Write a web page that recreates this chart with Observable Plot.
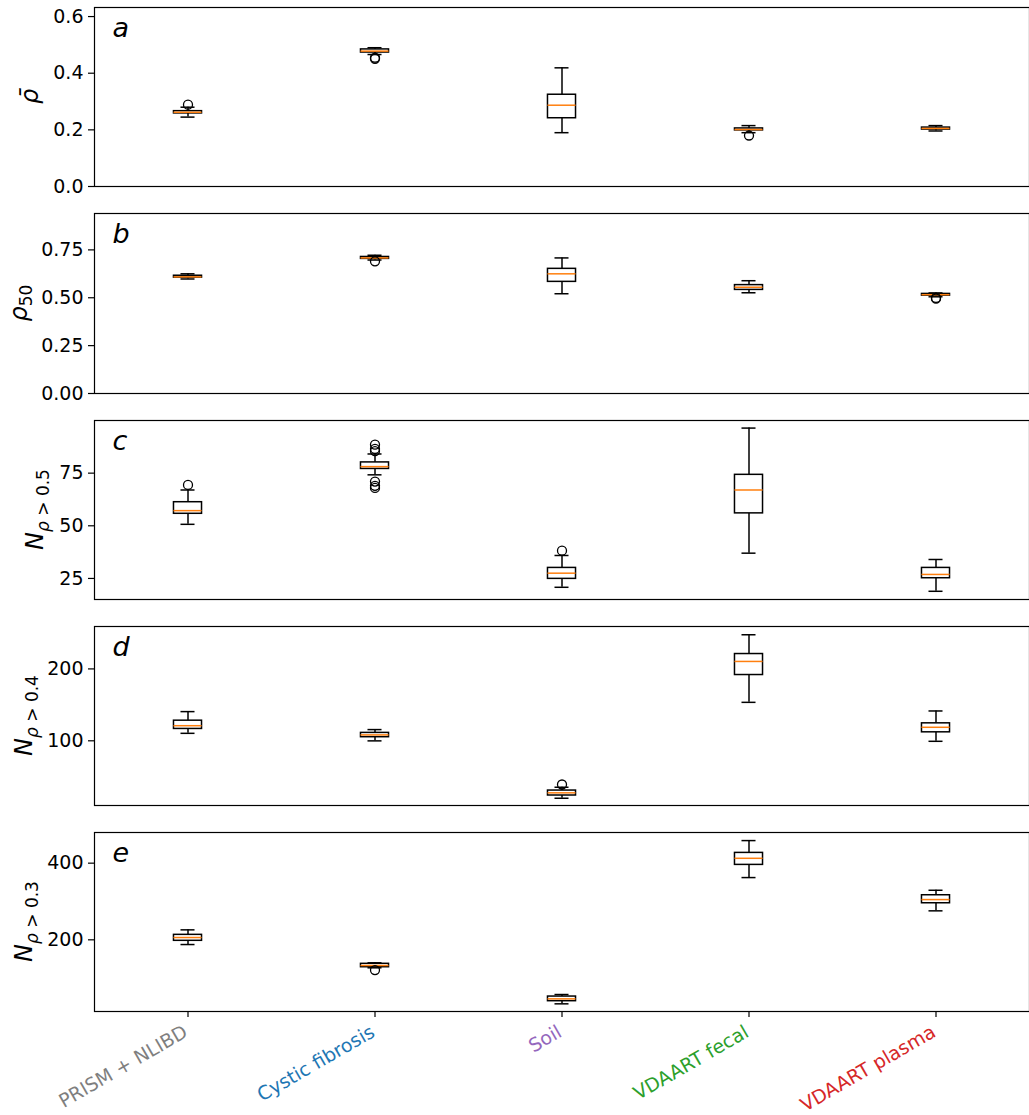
<!DOCTYPE html>
<html><head><meta charset="utf-8">
<script src="https://cdn.jsdelivr.net/npm/d3@7"></script>
<script src="https://cdn.jsdelivr.net/npm/@observablehq/plot@0.6"></script>
<style>
body{margin:0;background:#fff;}
#chart{width:1029px;}
#chart svg{display:block;overflow:visible;}
</style>
</head><body><div id="chart"></div>
<script>
const categories = ["PRISM + NLIBD", "Cystic fibrosis", "Soil", "VDAART fecal", "VDAART plasma"];
const categoryColors = ["#7f7f7f", "#1f77b4", "#9467bd", "#2ca02c", "#d62728"];

// each row: [whisker low, q1, median, q3, whisker high], one per category
const rhoMean = [
  [0.245, 0.258, 0.262, 0.266, 0.280],
  [0.466, 0.473, 0.478, 0.484, 0.490],
  [0.190, 0.241, 0.287, 0.324, 0.419],
  [0.190, 0.198, 0.201, 0.205, 0.215],
  [0.196, 0.201, 0.205, 0.208, 0.215]
];
const rhoMeanOutliers = [[0, 0.289], [1, 0.455], [1, 0.451], [3, 0.180]];

const rho50 = [
  [0.598, 0.605, 0.609, 0.615, 0.625],
  [0.697, 0.703, 0.708, 0.713, 0.722],
  [0.521, 0.583, 0.625, 0.651, 0.708],
  [0.526, 0.541, 0.555, 0.566, 0.589],
  [0.505, 0.511, 0.516, 0.520, 0.525]
];
const rho50Outliers = [[1, 0.690], [4, 0.495], [4, 0.499]];

const n05 = [
  [50.7, 55.7, 57.2, 61.2, 67.0],
  [74.2, 77.0, 78.1, 80.1, 84.1],
  [20.8, 24.8, 27.5, 30.0, 35.9],
  [37.0, 55.9, 67.0, 74.2, 96.4],
  [18.9, 25.1, 26.9, 30.0, 34.0]
];
const n05Outliers = [[0, 69.4], [1, 85.5], [1, 86.5], [1, 88.5], [1, 71.0], [1, 69.0], [1, 68.0], [2, 38.2]];

const n04 = [
  [110.4, 116.5, 121.0, 128.0, 140.6],
  [99.9, 105.0, 108.2, 111.0, 115.6],
  [20.1, 23.9, 27.6, 30.8, 35.4],
  [153.5, 191.5, 210.4, 220.7, 247.5],
  [99.3, 111.8, 118.8, 124.3, 141.5]
];
const n04Outliers = [[2, 39.2]];

const n03 = [
  [187.7, 197.4, 206.0, 213.0, 226.0],
  [127.0, 128.5, 133.0, 137.4, 140.0],
  [33.0, 39.9, 46.0, 52.0, 57.3],
  [362.4, 395.5, 412.7, 426.8, 458.9],
  [275.6, 295.4, 305.0, 316.3, 329.3]
];
const n03Outliers = [[1, 121.0]];

const panelLetters = ["a", "b", "c", "d", "e"];
const yDomains = [[0, 0.632], [0, 0.94], [15, 100], [10, 259], [13, 480]];
const yTicks = [[0, 0.2, 0.4, 0.6], [0, 0.25, 0.5, 0.75], [25, 50, 75], [100, 200], [200, 400]];
const yTickFormats = [".1f", ".2f", "d", "d", "d"];

const panels = [
  {stats: rhoMean, outliers: rhoMeanOutliers, height: 206, labelX: 38, label: [["ρ̄", "italic", 0]]},
  {stats: rho50, outliers: rho50Outliers, height: 207, labelX: 27, label: [["ρ", "italic", 0], ["50", "normal", 5]]},
  {stats: n05, outliers: n05Outliers, height: 206, labelX: 43, label: [["N", "italic", 0], ["ρ", "italic", 6], [" > 0.5", "normal", 0]]},
  {stats: n04, outliers: n04Outliers, height: 206, labelX: 32, label: [["N", "italic", 0], ["ρ", "italic", 6], [" > 0.4", "normal", 0]]},
  {stats: n03, outliers: n03Outliers, height: 290, labelX: 32, label: [["N", "italic", 0], ["ρ", "italic", 6], [" > 0.3", "normal", 0]]}
];

const chart = document.getElementById("chart");
const halfBox = 0.075, halfCap = 0.0375;
const FONT = "DejaVu Sans, sans-serif";

panels.forEach((p, k) => {
  const isLast = k === panels.length - 1;
  const rows = p.stats.map((s, i) => ({pos: i + 1, cat: categories[i], lo: s[0], q1: s[1], med: s[2], q3: s[3], hi: s[4]}));
  const outs = p.outliers.map(([i, v]) => ({pos: i + 1, v}));
  const marks = [
    Plot.ruleX(rows, {x: "pos", y1: "lo", y2: "q1", stroke: "black", strokeWidth: 1.5}),
    Plot.ruleX(rows, {x: "pos", y1: "q3", y2: "hi", stroke: "black", strokeWidth: 1.5}),
    Plot.ruleY(rows, {x1: d => d.pos - halfCap, x2: d => d.pos + halfCap, y: "lo", stroke: "black", strokeWidth: 1.5}),
    Plot.ruleY(rows, {x1: d => d.pos - halfCap, x2: d => d.pos + halfCap, y: "hi", stroke: "black", strokeWidth: 1.5}),
    Plot.rect(rows, {x1: d => d.pos - halfBox, x2: d => d.pos + halfBox, y1: "q1", y2: "q3", fill: "white", stroke: "black", strokeWidth: 1.5}),
    Plot.ruleY(rows, {x1: d => d.pos - halfBox, x2: d => d.pos + halfBox, y: "med", stroke: "#ff7f0e", strokeWidth: 1.5}),
    Plot.dot(outs, {x: "pos", y: "v", r: 4.5, stroke: "black", strokeWidth: 1.3, fill: "none"}),
    Plot.frame({stroke: "black", strokeWidth: 1.2}),
    Plot.axisY({ticks: yTicks[k], tickFormat: d3.format(yTickFormats[k]), tickSize: 6, tickPadding: 5, label: null, fontSize: 19, stroke: "black", strokeWidth: 1.2}),
    Plot.text([panelLetters[k]], {frameAnchor: "top-left", textAnchor: "start", lineAnchor: "top", dx: 18, dy: 10, fontSize: 27, fontStyle: "italic", fill: "black"})
  ];
  if (isLast) {
    marks.push(Plot.axisX({ticks: [1, 2, 3, 4, 5], tickSize: 6, tickFormat: () => "", label: null, stroke: "black", strokeWidth: 1.2}));
    marks.push(Plot.text(rows, {x: "pos", frameAnchor: "bottom", text: "cat", fill: "cat", rotate: -30, textAnchor: "end", lineAnchor: "middle", dx: -2, dy: 19, fontSize: 19}));
  } else {
    marks.push(Plot.axisX({ticks: [], label: null}));
  }
  const svg = Plot.plot({
    width: 1029,
    height: p.height,
    marginTop: 7,
    marginBottom: p.height - 7 - (k === 1 ? 180 : 179),
    marginLeft: 94,
    marginRight: 0,
    style: {fontFamily: FONT, fontSize: "19px", color: "black", background: "white", overflow: "visible"},
    x: {domain: [0.5, 5.5]},
    y: {domain: yDomains[k]},
    color: {domain: categories, range: categoryColors},
    marks
  });
  // y-axis label with subscript parts
  const yCenter = 7 + (k === 1 ? 180 : 179) / 2;
  const t = d3.select(svg).append("text")
    .attr("transform", `translate(${p.labelX},${yCenter}) rotate(-90)`)
    .attr("text-anchor", "middle")
    .attr("font-family", FONT)
    .attr("font-size", 24)
    .attr("fill", "black");
  p.label.forEach(([txt, style, shift], j) => {
    const ts = t.append("tspan").text(txt).attr("font-style", style);
    if (j > 0) ts.attr("font-size", 17);
    if (shift) ts.attr("dy", shift);
  });
  chart.appendChild(svg);
});
</script>
</body></html>
